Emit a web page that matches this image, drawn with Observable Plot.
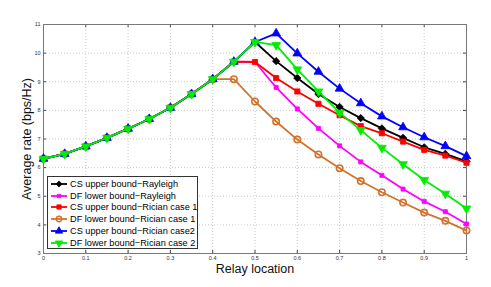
<!DOCTYPE html>
<html><head><meta charset="utf-8">
<script src="https://cdn.jsdelivr.net/npm/d3@7"></script>
<script src="https://cdn.jsdelivr.net/npm/@observablehq/plot@0.6"></script>
<style>
body{margin:0;background:#fff;font-family:"Liberation Sans",Arial,sans-serif;}
#wrap{position:relative;width:491px;height:287px;}
#legend{position:absolute;left:47px;top:176px;width:151px;height:73px;border:1px solid #333;background:#fff;box-sizing:border-box;padding-top:1px;}
.row{display:flex;align-items:center;height:11.8px;font-size:9.2px;color:#000;white-space:nowrap;}
.row svg{margin-left:3px;margin-right:3px;flex:none;}
</style></head>
<body><div id="wrap"></div>
<script>
const relay = [0,0.05,0.1,0.15,0.2,0.25,0.3,0.35,0.4,0.45,0.5,0.55,0.6,0.65,0.7,0.75,0.8,0.85,0.9,0.95,1];
const csRayleigh = [6.31,6.48,6.74,7.04,7.36,7.70,8.09,8.57,9.09,9.70,10.39,9.72,9.13,8.57,8.12,7.73,7.37,7.04,6.71,6.48,6.22];
const dfRayleigh = [6.31,6.48,6.74,7.04,7.36,7.70,8.09,8.57,9.09,9.70,9.69,8.80,8.05,7.37,6.76,6.20,5.73,5.25,4.82,4.46,4.03];
const csRician1  = [6.31,6.48,6.74,7.04,7.36,7.70,8.09,8.57,9.09,9.70,9.69,9.13,8.66,8.23,7.83,7.45,7.20,6.91,6.62,6.42,6.17];
const dfRician1  = [6.31,6.48,6.74,7.04,7.36,7.70,8.09,8.57,9.09,9.09,8.31,7.61,6.98,6.46,5.98,5.53,5.14,4.78,4.43,4.14,3.80];
const csRician2  = [6.31,6.48,6.74,7.04,7.36,7.70,8.09,8.57,9.09,9.70,10.39,10.69,9.99,9.35,8.76,8.25,7.79,7.41,7.06,6.75,6.40];
const dfRician2  = [6.31,6.48,6.74,7.04,7.36,7.70,8.09,8.57,9.09,9.70,10.39,10.28,9.43,8.66,7.92,7.31,6.69,6.12,5.57,5.09,4.57];
const seriesNames = ["CS upper bound\u2212Rayleigh","DF lower bound\u2212Rayleigh","CS upper bound\u2212Rician case 1","DF lower bound\u2212Rician case 1","CS upper bound\u2212Rician case2","DF lower bound\u2212Rician case 2"];
const xTicks = [0,0.1,0.2,0.3,0.4,0.5,0.6,0.7,0.8,0.9,1];
const yTicks = [3,4,5,6,7,8,9,10,11];

const styles = [
  {color:"#000000", symbol:"diamond2", r:3.3, fill:"#000000", rotate:0},
  {color:"#ff00ff", symbol:"square2", r:2.6, fill:"#ff00ff", rotate:0},
  {color:"#ff0000", symbol:"square2", r:3.3, fill:"#ff0000", rotate:0},
  {color:"#d2732c", symbol:"circle", r:3.2, fill:"none", rotate:0},
  {color:"#0000ff", symbol:"triangle2", r:4.2, fill:"#0000ff", rotate:0},
  {color:"#00ee00", symbol:"triangle2", r:4.2, fill:"#00ee00", rotate:180}
];
const allSeries = [csRayleigh, dfRayleigh, csRician1, dfRician1, csRician2, dfRician2];
const data = allSeries.map((s,i)=> relay.map((x,j)=>({x, y:s[j], k:i})));

const W=491,H=287,mL=43,mR=25,mT=24,mB=34;
const pw=W-mL-mR, ph=H-mT-mB;
const marks = [
  Plot.gridX(xTicks,{stroke:"#c8c8c8",strokeOpacity:1,strokeDasharray:"1,2"}),
  Plot.gridY(yTicks,{stroke:"#c8c8c8",strokeOpacity:1,strokeDasharray:"1,2"}),
  Plot.tickX(xTicks,{x:d=>d,insetTop:ph-3,stroke:"#444"}),
  Plot.tickX(xTicks,{x:d=>d,insetBottom:ph-3,stroke:"#444"}),
  Plot.tickY(yTicks,{y:d=>d,insetRight:pw-3,stroke:"#444"}),
  Plot.tickY(yTicks,{y:d=>d,insetLeft:pw-3,stroke:"#444"}),
  Plot.axisX(xTicks,{tickSize:0,tickPadding:3,fontSize:5.5,color:"#333",tickFormat:d=>String(d),label:null}),
  Plot.axisY(yTicks,{tickSize:0,tickPadding:3,fontSize:5.5,color:"#333",tickFormat:d=>String(d),label:null}),
  Plot.frame({stroke:"#777",strokeWidth:1}),
];
data.forEach((d,i)=>{
  const st=styles[i];
  marks.push(Plot.line(d,{x:"x",y:"y",stroke:st.color,strokeWidth:1.8}));
  marks.push(Plot.dot(d,{x:"x",y:"y",symbol:()=>st.symbol,r:st.r,fill:st.fill,stroke:st.color,strokeWidth:st.fill==="none"?1.6:0.8,rotate:st.rotate}));
});
marks.push(Plot.text(["Average rate (bps/Hz)"],{frameAnchor:"left",dx:-17,rotate:-90,textAnchor:"middle",lineAnchor:"middle",fontSize:12.5,fill:"#111",fontFamily:"Liberation Sans, Arial, sans-serif"}));
marks.push(Plot.text(["Relay location"],{frameAnchor:"bottom",dy:15,textAnchor:"middle",lineAnchor:"middle",fontSize:12.5,fill:"#111",fontFamily:"Liberation Sans, Arial, sans-serif"}));

const chart = Plot.plot({
  width:W,height:H,marginLeft:mL,marginRight:mR,marginTop:mT,marginBottom:mB,
  style:{fontFamily:"Liberation Sans, Arial, sans-serif",background:"#fff"},
  x:{domain:[0,1],axis:null},
  y:{domain:[3,11],axis:null},
  symbol:{type:"identity"},
  marks
});
const wrap=document.getElementById("wrap");
wrap.appendChild(chart);

const legend=document.createElement("div");
legend.id="legend";
seriesNames.forEach((name,i)=>{
  const st=styles[i];
  const row=document.createElement("div");row.className="row";
  const svg=d3.create("svg").attr("width",16).attr("height",10);
  svg.append("line").attr("x1",0).attr("x2",16).attr("y1",5).attr("y2",5).attr("stroke",st.color).attr("stroke-width",1.8);
  const typeMap={diamond2:d3.symbolDiamond2,square2:d3.symbolSquare2,circle:d3.symbolCircle,triangle2:d3.symbolTriangle2};
  const size=Math.PI*st.r*st.r*0.7;
  svg.append("path").attr("d",d3.symbol(typeMap[st.symbol],size)())
    .attr("transform",`translate(8,5) rotate(${st.rotate})`)
    .attr("fill",st.fill).attr("stroke",st.color).attr("stroke-width",st.fill==="none"?1.4:0.8);
  row.appendChild(svg.node());
  const t=document.createElement("span");t.textContent=name;row.appendChild(t);
  legend.appendChild(row);
});
wrap.appendChild(legend);
</script></body></html>
